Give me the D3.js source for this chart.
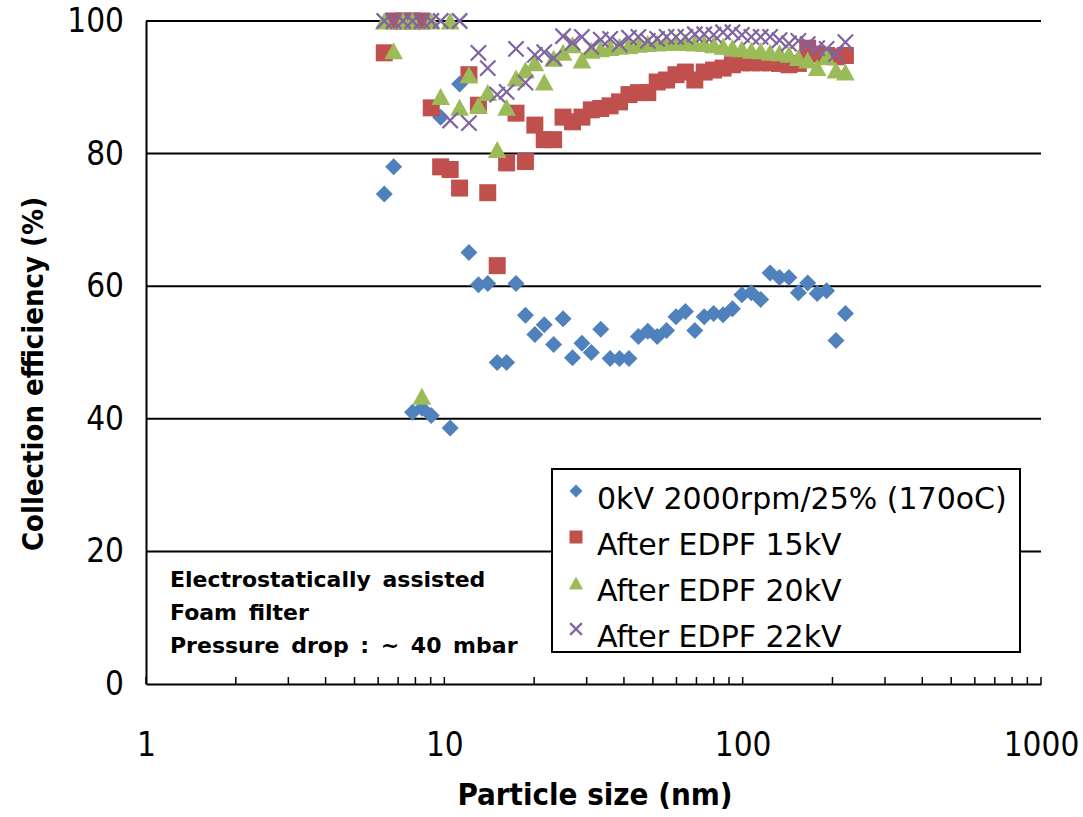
<!DOCTYPE html>
<html><head><meta charset="utf-8">
<script src="https://cdn.jsdelivr.net/npm/d3@7"></script>
<style>
body{margin:0;background:#fff;}
svg{display:block;}
</style></head>
<body>
<svg id="chart" width="1083" height="817"></svg>
<script>
// Particle size channels (nm)
const sizes = [6.29,6.76,7.27,7.82,8.41,9.04,9.72,10.46,11.25,12.09,13.01,13.98,15.04,16.17,17.39,18.70,20.11,21.62,23.25,25.00,26.89,28.92,31.09,33.44,35.95,38.66,41.58,44.71,48.08,51.70,55.59,59.78,64.27,69.12,74.32,79.92,85.94,92.42,99.38,106.9,114.9,123.6,132.9,142.9,153.7,165.2,177.7,191.1,205.5,221.0];

const seriesNames = ["0kV 2000rpm/25% (170oC)","After EDPF 15kV","After EDPF 20kV","After EDPF 22kV"];

const eff0kV = [73.9,78.0,null,41.0,41.6,40.5,85.5,38.6,90.5,65.1,60.2,60.4,48.5,48.5,60.4,55.6,52.7,54.2,51.2,55.1,49.2,51.4,50.0,53.5,49.1,49.1,49.1,52.4,53.2,52.4,53.3,55.4,56.2,53.3,55.4,55.9,55.7,56.6,58.7,59.0,58.0,62.0,61.3,61.3,59.0,60.5,58.9,59.3,51.8,55.9];

const eff15kV = [95.2,100,100,100,100,86.9,78.0,77.6,74.8,91.9,87.3,74.1,63.1,78.6,86.1,78.8,84.3,82.1,82.1,85.5,84.8,85.5,86.6,86.8,87.2,87.8,88.9,89.2,89.2,90.8,91.1,91.9,92.3,91.1,92.3,92.6,92.9,93.4,93.7,93.7,93.7,93.7,93.6,93.4,93.6,95.9,95.0,94.8,94.6,94.8];

const eff20kV = [100,95.5,100,100,43.4,100,88.6,100,87.0,91.9,87.3,89.2,80.6,87.0,91.4,92.6,93.7,90.8,94.4,95.3,96.4,94.1,95.6,95.8,96.0,96.2,96.3,96.5,96.6,96.7,96.8,96.8,96.8,96.7,96.6,96.4,96.2,96.0,95.8,95.6,95.5,95.3,95.2,95.0,94.5,94.1,93.0,94.6,92.6,92.3];

const eff22kV = [100,100,100,100,100,100,100,85.0,100,84.6,95.2,92.9,88.9,89.3,95.8,90.7,94.9,95.3,94.4,97.7,96.7,97.6,96.1,97.2,97.3,96.5,97.5,97.6,97.0,97.3,97.6,97.6,97.6,98.0,98.0,97.9,98.3,98.3,97.9,97.6,97.6,97.6,97.1,96.6,97.0,96.5,95.9,95.8,95.0,96.8];

const xTickValues = [1,10,100,1000];
const yTickValues = [0,20,40,60,80,100];
const noteLines = ["Electrostatically assisted","Foam filter","Pressure drop : ~ 40 mbar"];

const colors = ["#4F81BD","#C0504D","#9BBB59","#8064A2"];
const allSeries = [eff0kV, eff15kV, eff20kV, eff22kV];

const svg = d3.select("#chart");
const x = d3.scaleLog().domain([1,1000]).range([146,1041]);
const y = d3.scaleLinear().domain([0,100]).range([684,21]);

const tickFont = "'DejaVu Sans Condensed','DejaVu Sans', sans-serif";
const legendFont = "'DejaVu Sans', sans-serif";
const boldFont = "'DejaVu Sans Condensed','DejaVu Sans', sans-serif";

// grid lines
svg.append("g").selectAll("line").data(yTickValues.filter(v=>v>0)).join("line")
  .attr("x1", x(1)).attr("x2", x(1000))
  .attr("y1", d=>y(d)).attr("y2", d=>y(d))
  .attr("stroke","#000").attr("stroke-width",2);

// y axis
const yAxis = d3.axisLeft(y).tickValues(yTickValues).tickSize(0).tickPadding(22);
const gy = svg.append("g").attr("transform",`translate(${x(1)},0)`).call(yAxis);
gy.select(".domain").attr("stroke","#000").attr("stroke-width",2);
gy.selectAll("text").attr("font-family",tickFont).attr("font-size",33).attr("fill","#000");

// x axis: minor ticks pointing inward
const minor = [];
for (let dec=1; dec<1000; dec*=10) for (let m=1; m<=10; m++) minor.push(dec*m);
const xAxis = d3.axisBottom(x).tickValues(xTickValues).tickSize(0).tickPadding(49)
  .tickFormat(d3.format("d"));
const gx = svg.append("g").attr("transform",`translate(0,${y(0)})`).call(xAxis);
gx.select(".domain").attr("stroke","#000").attr("stroke-width",2);
gx.selectAll("text").attr("font-family",tickFont).attr("font-size",33).attr("fill","#000");
svg.append("g").selectAll("line").data([...new Set(minor)]).join("line")
  .attr("x1",d=>x(d)).attr("x2",d=>x(d))
  .attr("y1",y(0)).attr("y2",y(0)-7)
  .attr("stroke","#000").attr("stroke-width",1.5);

// axis titles
svg.append("text").attr("x",595).attr("y",805).attr("text-anchor","middle")
  .attr("font-family",boldFont).attr("font-weight","bold").attr("font-size",31)
  .text("Particle size (nm)");
svg.append("text").attr("transform","translate(43,374) rotate(-90)").attr("text-anchor","middle")
  .attr("font-family",boldFont).attr("font-weight","bold").attr("font-size",29)
  .text("Collection efficiency (%)");

// marker shapes
function markerPath(i, s){
  if (i===0){ const r=s*0.5; return `M0,${-r}L${r},0L0,${r}L${-r},0Z`; }
  if (i===1){ const r=s*0.5; return `M${-r},${-r}H${r}V${r}H${-r}Z`; }
  if (i===2){ const w=s*0.55, h=s*0.5; return `M0,${-h}L${w},${h}L${-w},${h}Z`; }
  const r=s*0.45; return `M${-r},${-r}L${r},${r}M${-r},${r}L${r},${-r}`;
}
function drawMarker(g, i, s){
  const p = g.append("path").attr("d", markerPath(i,s));
  if (i===3) p.attr("fill","none").attr("stroke",colors[i]).attr("stroke-width",2.2);
  else p.attr("fill",colors[i]);
}

// data points
allSeries.forEach((vals, i) => {
  const pts = sizes.map((s,k)=>({s, v: vals[k]})).filter(d=>d.v!==null);
  const g = svg.append("g");
  pts.forEach(d=>{
    const m = g.append("g").attr("transform",`translate(${x(d.s)},${y(d.v)})`);
    drawMarker(m, i, 17);
  });
});

// note text
const note = svg.append("text").attr("font-family","'DejaVu Sans', sans-serif")
  .attr("font-weight","bold").attr("font-size",22).attr("word-spacing",4).attr("fill","#000");
noteLines.forEach((t,k)=>note.append("tspan").attr("x",170).attr("y",587+k*33).text(t));

// legend
const lg = svg.append("g");
lg.append("rect").attr("x",552).attr("y",469).attr("width",468).attr("height",183)
  .attr("fill","#fff").attr("stroke","#000").attr("stroke-width",2);
seriesNames.forEach((n,i)=>{
  const cy = 496 + i*46;
  const m = lg.append("g").attr("transform",`translate(576,${cy-5})`);
  drawMarker(m, i, 13);
  lg.append("text").attr("x",597).attr("y",cy+13).attr("font-family",legendFont)
    .attr("font-size",30).attr("fill","#000").text(n);
});
</script>
</body></html>
